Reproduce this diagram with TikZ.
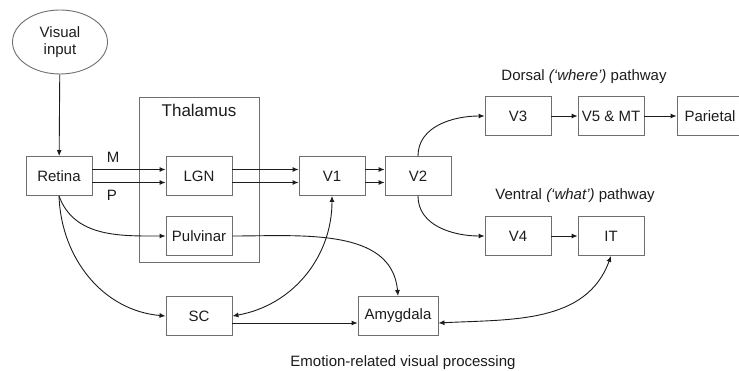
\documentclass[tikz,border=0pt]{standalone}
\usepackage{fontspec}
\setmainfont{Liberation Sans}
\usepackage{xcolor}
\usepackage{tikz}
\usetikzlibrary{arrows.meta,shapes.geometric}
\definecolor{boxgray}{HTML}{6E6E6E}
\definecolor{ink}{HTML}{1C1C1C}
\tikzset{bx/.style={rectangle,draw=boxgray,line width=0.9pt,minimum width=66pt,minimum height=39pt,inner sep=0pt,font=\fontsize{15}{18}\selectfont,text=ink},
  ar/.style={ink,line width=0.9pt,-{Latex[length=6pt,width=5pt]}},
  dar/.style={ink,line width=0.9pt,{Latex[length=6pt,width=5pt]}-{Latex[length=6pt,width=5pt]}},
  lbl/.style={font=\fontsize{15}{18}\selectfont,text=ink,inner sep=0pt}}
\begin{document}
\begin{tikzpicture}[x=1pt,y=-1pt]
\useasboundingbox (0,0) rectangle (739,371);
\node[ellipse,draw=boxgray,line width=0.9pt,minimum width=95pt,minimum height=64pt,inner sep=0pt,align=center,font=\fontsize{15}{17}\selectfont,text=ink] (vin) at (60,42) {Visual\\input};
\node[rectangle,draw=boxgray,line width=0.9pt,minimum width=120pt,minimum height=165pt] (thal) at (199,179.5) {};
\node[lbl,font=\fontsize{17}{20}\selectfont] (thallab) at (199,110) {Thalamus};
% boxes
\node[bx] (ret) at (59,176) {Retina};
\node[bx] (lgn) at (199,176) {LGN};
\node[bx] (pulv) at (199,236) {Pulvinar};
\node[bx] (v1) at (332,176) {V1};
\node[bx] (v2) at (418,176) {V2};
\node[bx] (v3) at (518,116) {V3};
\node[bx] (v5) at (611,116) {V5 \& MT};
\node[bx] (par) at (710,116) {Parietal};
\node[bx] (v4) at (518,236) {V4};
\node[bx] (it) at (611,236) {IT};
\node[bx] (sc) at (199,316) {SC};
\node[bx,minimum width=80pt] (amyg) at (398,316) {Amygdala};
% labels
\node[lbl] (mlab) at (113,157.5) {M};
\node[lbl] (plab) at (112,195) {P};
\node[lbl] (dors) at (584,77) {Dorsal \textit{(‘where’)} pathway};
\node[lbl] (vent) at (575,196) {Ventral \textit{(‘what’)} pathway};
\node[lbl] (emo) at (403,363) {Emotion-related visual processing};
% connections
\draw[ar] (vin) -- (ret);
\foreach \s in {6.5,-6.5}{
  \draw[ar] ([yshift=\s pt]ret.east) -- ([yshift=\s pt]lgn.west);
  \draw[ar] ([yshift=\s pt]lgn.east) -- ([yshift=\s pt]v1.west);
  \draw[ar] ([yshift=\s pt]v1.east) -- ([yshift=\s pt]v2.west);}
\draw[ar] (ret.south) to[out=-70,in=180] (pulv.west);
\draw[ar] (ret.south) to[out=-88,in=175] (sc.west);
\draw[dar] (v1.south) to[out=-90,in=10] (sc.east);
\draw[ar] (pulv.east) to[out=0,in=95] (amyg.north);
\draw[ar] ([yshift=-7pt]sc.east) -- ([yshift=-7pt]amyg.west);
\draw[dar] (it.south) to[out=-110,in=3] ([yshift=-7pt]amyg.east);
\draw[ar] (v2.north) to[out=90,in=180] (v3.west);
\draw[ar] (v2.south) to[out=-90,in=180] (v4.west);
\draw[ar] (v3) -- (v5);
\draw[ar] (v5) -- (par);
\draw[ar] (v4) -- (it);
\end{tikzpicture}
\end{document}
